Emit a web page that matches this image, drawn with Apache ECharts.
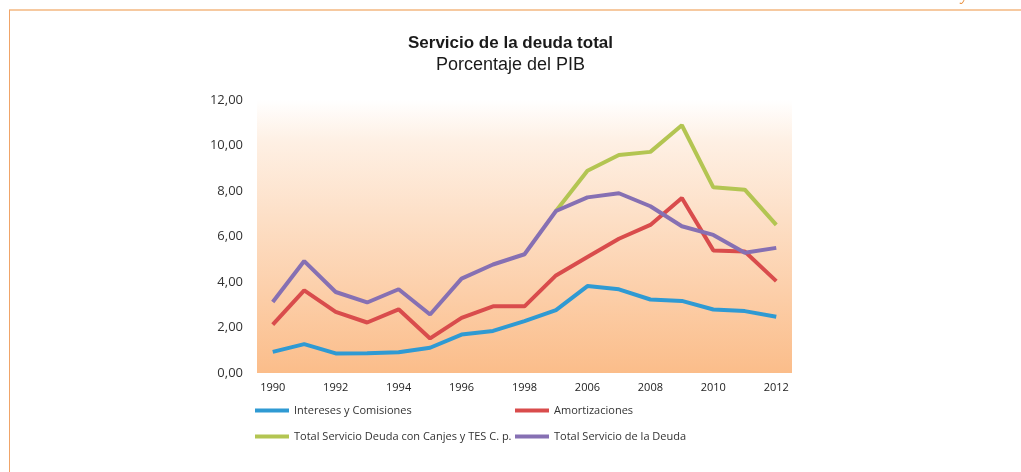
<!DOCTYPE html>
<html>
<head>
<meta charset="utf-8">
<script src="https://cdn.jsdelivr.net/npm/echarts@6/dist/echarts.min.js"></script>
<style>
html,body{margin:0;padding:0;background:#fff;}
#chart{width:1021px;height:472px;}
</style>
</head>
<body>
<div id="chart"></div>
<script>
const categories = ['1990','1991','1992','1993','1994','1995','1996','1997','1998','2005','2006','2007','2008','2009','2010','2011','2012'];
const intereses = [0.93,1.27,0.86,0.87,0.91,1.11,1.69,1.85,2.28,2.76,3.82,3.68,3.23,3.17,2.79,2.72,2.47];
const amortizaciones = [2.13,3.63,2.69,2.22,2.80,1.52,2.42,2.93,2.93,4.29,5.10,5.90,6.51,7.69,5.39,5.34,4.04];
const totalCanjes = [null,null,null,null,null,null,null,null,null,7.12,8.89,9.58,9.72,10.89,8.16,8.06,6.51];
const totalServicio = [3.12,4.92,3.56,3.10,3.68,2.57,4.15,4.77,5.22,7.12,7.72,7.90,7.33,6.45,6.07,5.29,5.50];
const seriesNames = ['Intereses y Comisiones','Amortizaciones','Total Servicio Deuda con Canjes y TES C. p.','Total Servicio de la Deuda'];
const colors = ['#2f9ad3','#d94c4c','#b3c552','#8670b3'];

const chart = echarts.init(document.getElementById('chart'), null, {renderer:'canvas'});
const mk = (i, data) => ({
  name: seriesNames[i], type:'line', data: data, symbol:'none', smooth:false,
  lineStyle:{color:colors[i], width:4}, itemStyle:{color:colors[i]}, z: 2 + i
});
chart.setOption({
  animation:false,
  title:[
    {text:'Servicio de la deuda total', left:'center', top:30,
     textStyle:{fontFamily:'Liberation Sans, Arial, sans-serif', fontWeight:'bold', fontSize:17, color:'#1a1a1a'}},
    {text:'Porcentaje del PIB', left:'center', top:51,
     textStyle:{fontFamily:'Liberation Sans, Arial, sans-serif', fontWeight:'normal', fontSize:18, color:'#1a1a1a'}}
  ],
  grid:{left:257, right:229, top:100, bottom:99, show:true, borderWidth:0,
    backgroundColor:new echarts.graphic.LinearGradient(0,0,0,1,[{offset:0,color:'#ffffff'},{offset:0.15,color:'#fef0e4'},{offset:1,color:'#fbbd8a'}])},
  legend:[
    {orient:'vertical', left:255, top:405, padding:0, itemGap:15, itemWidth:34, itemHeight:4, icon:'rect',
     data:[seriesNames[0], seriesNames[2]],
     textStyle:{fontFamily:'Open Sans, sans-serif', fontSize:11, color:'#333'}},
    {orient:'vertical', left:515, top:405, padding:0, itemGap:15, itemWidth:34, itemHeight:4, icon:'rect',
     data:[seriesNames[1], seriesNames[3]],
     textStyle:{fontFamily:'Open Sans, sans-serif', fontSize:11, color:'#333'}}
  ],
  xAxis:{type:'category', data:categories, boundaryGap:true,
    axisLine:{show:false}, axisTick:{show:false},
    axisLabel:{interval:1, color:'#222', fontSize:11, fontFamily:'Open Sans, sans-serif', margin:9}},
  yAxis:{type:'value', min:0, max:12, interval:2,
    axisLine:{show:false}, axisTick:{show:false}, splitLine:{show:false},
    axisLabel:{color:'#333', fontSize:13, fontFamily:'Open Sans, sans-serif', margin:14,
      formatter:v => v.toFixed(2).replace('.', ',')}},
  series:[mk(2,totalCanjes), mk(0,intereses), mk(1,amortizaciones), mk(3,totalServicio)],
  graphic:[
    {type:'line', shape:{x1:9, y1:10, x2:1021, y2:10}, style:{stroke:'#f6c9a0', lineWidth:2}},
    {type:'line', shape:{x1:9.5, y1:10, x2:9.5, y2:472}, style:{stroke:'#f0a468', lineWidth:1}},
    {type:'text', left:961, top:-12, style:{text:'y', fontSize:16, fontStyle:'italic', fill:'#e8862e', fontFamily:'Liberation Serif, serif'}}
  ]
});
</script>
</body>
</html>
